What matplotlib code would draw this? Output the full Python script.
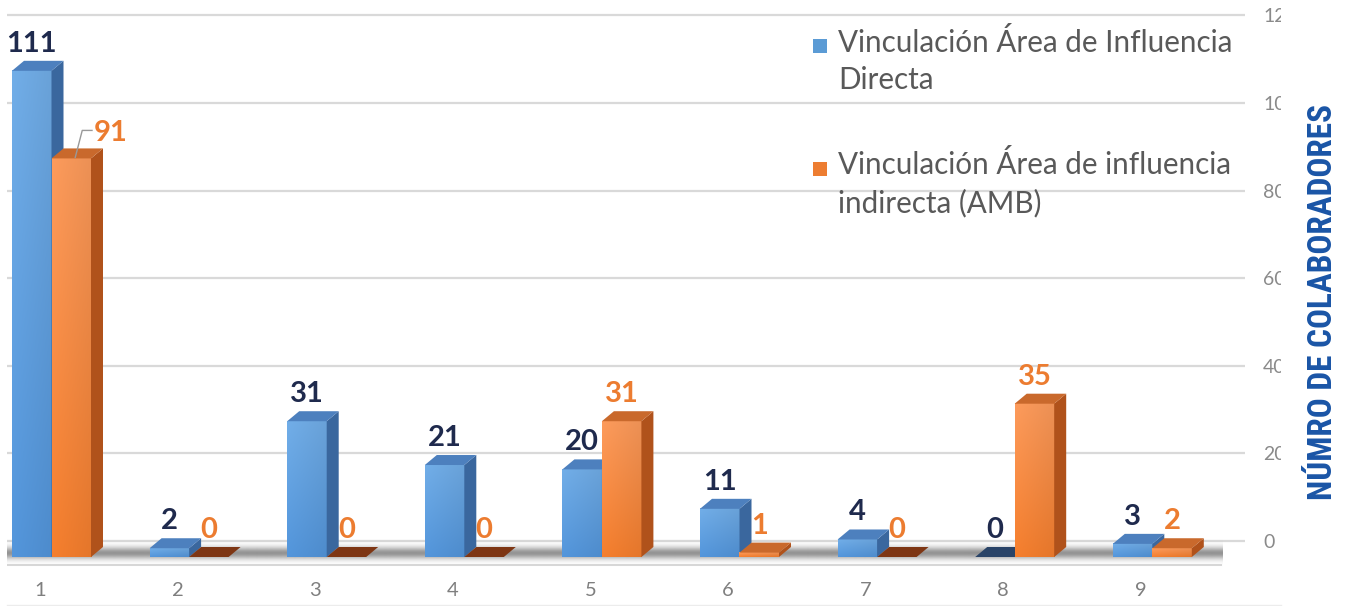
import numpy as np
import matplotlib
matplotlib.use('Agg')
import matplotlib.pyplot as plt
from matplotlib import font_manager
from matplotlib.patches import Polygon, Rectangle
from matplotlib.transforms import Bbox, TransformedBbox
from matplotlib.lines import Line2D

# ---------------- data ----------------
categories = ['1', '2', '3', '4', '5', '6', '7', '8', '9']
directa = [111, 2, 31, 21, 20, 11, 4, 0, 3]
indirecta = [91, 0, 0, 0, 31, 1, 0, 35, 2]
series_names = ['Vinculación Área de Influencia\nDirecta',
                'Vinculación Área de influencia\nindirecta (AMB)']
yticks = [0, 20, 40, 60, 80, 100, 120]
ytitle = 'NÚMRO DE COLABORADORES'

# ---------------- layout (pixels) ----------------
W, H = 1353, 606
PX = 4.38          # px per value unit
Y0PIX = 541        # pixel row of value-0 gridline
CAT0, CATW = 40, 137.6
AXL, AXR, AXT, AXB = 7, 1245, 0, 575

fig = plt.figure(figsize=(W / 100, H / 100), dpi=100)
fig.patch.set_facecolor('white')
ax = fig.add_axes([AXL / W, 1 - AXB / H, (AXR - AXL) / W, (AXB - AXT) / H])
ax.set_facecolor('white')

def ux(p):
    return p / CATW

def uy(p):
    return p / PX

xlim = (1 + ux(AXL - CAT0), 1 + ux(AXR - CAT0))
ylim = (uy(Y0PIX - AXB), uy(Y0PIX - AXT))

x = np.arange(1, len(categories) + 1)

# 3D geometry
y0 = -uy(16)          # front-face floor
dx, dy = ux(12), uy(10)
bw = ux(39.5)
left_off = [-ux(28), ux(11.5)]

styles = [
    dict(top_grad='#6DA7DF', bot_grad='#5090D3', side='#3A679E', top='#4D80BE',
         top0='#2A4468', lab='#1F2A4D'),
    dict(top_grad='#F39558', bot_grad='#EC7A2C', side='#B0521B', top='#C9692C',
         top0='#7E3614', lab='#EC7C30'),
]

def hex2rgb(h):
    h = h.lstrip('#')
    return np.array([int(h[i:i + 2], 16) / 255 for i in (0, 2, 4)])

def grad_face(x0, x1, yb, yt, ctop, cbot, z):
    if yt - yb <= 1e-9:
        return
    t = np.linspace(0, 1, 64)[:, None]
    cols = (1 - t) * hex2rgb(ctop) + t * hex2rgb(cbot)
    hs = np.linspace(1.04, 0.97, 16)[None, :, None]
    img = np.clip(cols[:, None, :] * hs, 0, 1)
    ax.imshow(img, extent=[x0, x1, yb, yt], aspect='auto', origin='upper',
              zorder=z, interpolation='bilinear')

# gridlines
for v in yticks:
    ax.axhline(v, color='#d9d9d9', lw=1.6, zorder=1)

# floor shadow
rows = np.linspace(568, 536, 80)
alpha = 0.7 * np.exp(-((rows - 553) / 6.0) ** 2)
shadow = np.zeros((len(rows), 2, 4))
shadow[..., :3] = 0.40
shadow[..., 3] = alpha[:, None]
floor_right = 1 + ux(1222 - CAT0)
ax.imshow(shadow, extent=[xlim[0], floor_right, uy(Y0PIX - 568), uy(Y0PIX - 536)],
          aspect='auto', origin='lower', zorder=1.5, interpolation='bilinear')
ax.plot([xlim[0], floor_right], [uy(Y0PIX - 565)] * 2, color='#d6d6d6',
        lw=1.4, zorder=1.6, solid_capstyle='butt')

# bars
for s, vals in enumerate([directa, indirecta]):
    st = styles[s]
    for i, v in enumerate(vals):
        c = x[i]
        xl = c + left_off[s]
        xr = xl + bw
        yt = y0 + v
        z = 3 + 0.1 * i + 0.05 * s
        grad_face(xl, xr, y0, yt, st['top_grad'], st['bot_grad'], z)
        ax.add_patch(Polygon([(xr, y0), (xr, yt), (xr + dx, yt + dy), (xr + dx, y0 + dy)],
                             closed=True, facecolor=st['side'], edgecolor='none', zorder=z))
        topc = st['top'] if v > 0 else st['top0']
        ax.add_patch(Polygon([(xl, yt), (xr, yt), (xr + dx, yt + dy), (xl + dx, yt + dy)],
                             closed=True, facecolor=topc, edgecolor='none', zorder=z + 0.01))

# data labels
label_shift = {(1, 0): True}   # label moved beside the bar with a leader line
for s, vals in enumerate([directa, indirecta]):
    st = styles[s]
    for i, v in enumerate(vals):
        cx = x[i] + left_off[s] + bw / 2
        cy = y0 + v + dy + uy(17)
        if label_shift.get((s, i)):
            lx = x[i] + left_off[s] + bw + ux(3)
            ly = y0 + v + uy(25)
            ax.text(lx, ly, str(v), ha='left', va='center', fontsize=21,
                    fontweight='bold', family='Lato', color=st['lab'], zorder=2.5)
            ax.add_line(Line2D([cx + ux(4), cx + ux(11), lx - ux(2)],
                               [y0 + v + uy(1), y0 + v + uy(28), y0 + v + uy(28)],
                               color='#999999', lw=1.0, zorder=10))
        else:
            ax.text(cx, cy, str(v), ha='center', va='center', fontsize=21,
                    fontweight='bold', family='Lato', color=st['lab'], zorder=2.5)

ax.set_xlim(*xlim)
ax.set_ylim(*ylim)
for sp in ax.spines.values():
    sp.set_visible(False)

ax.set_xticks(x)
ax.set_xticklabels(categories)
ax.tick_params(axis='x', length=0, pad=5, labelsize=14.5, labelcolor='#7f7f7f')
ax.yaxis.tick_right()
ax.set_yticks(yticks)
ax.set_yticklabels([str(v) for v in yticks])
ax.tick_params(axis='y', length=0, pad=13, labelsize=14, labelcolor='#8a8a8a')
for lbl in ax.get_xticklabels() + ax.get_yticklabels():
    lbl.set_family('Lato')
clipbb = TransformedBbox(Bbox.from_extents(0, 0, 1281 / W, 1), fig.transFigure)
for lbl in ax.get_yticklabels():
    lbl.set_clip_box(clipbb)
    lbl.set_clip_on(True)

# legend (manual)
leg_cols = ['#5B9BD5', '#ED7D31']
leg_y = [30, 152]
sq_y = [39, 162]
for k in range(2):
    fig.add_artist(Rectangle((813 / W, 1 - (sq_y[k] + 14) / H), 14 / W, 14 / H,
                             transform=fig.transFigure, facecolor=leg_cols[k],
                             edgecolor='none'))
    fig.text(838 / W, 1 - (leg_y[k] - 2) / H, series_names[k], ha='left', va='top',
             fontsize=21.3, family='Lato', color='#595959', linespacing=1.4)

# bottom faint border
fig.add_artist(Line2D([AXL / W, 1281 / W], [1 - 605 / H] * 2, transform=fig.transFigure,
                      color='#ececec', lw=1.0))

# axis title (right) - prefer a condensed face if one is installed
names = {f.name for f in font_manager.fontManager.ttflist}
cands = [n for n in ['Roboto Condensed', 'Liberation Sans Narrow', 'Open Sans Condensed',
                     'DejaVu Sans Condensed'] if n in names]
title_family = cands[:1] + ['DejaVu Sans']
t = fig.text(1323 / W, 1 - 302 / H, ytitle, rotation=90, ha='center', va='center',
             family=title_family, fontweight='bold', fontstretch='condensed',
             color='#1A55A6', fontsize=24)
fig.canvas.draw()
bb = t.get_window_extent()
t.set_fontsize(24 * 397 / bb.height)

fig.savefig('out.png', dpi=100, facecolor='white')
